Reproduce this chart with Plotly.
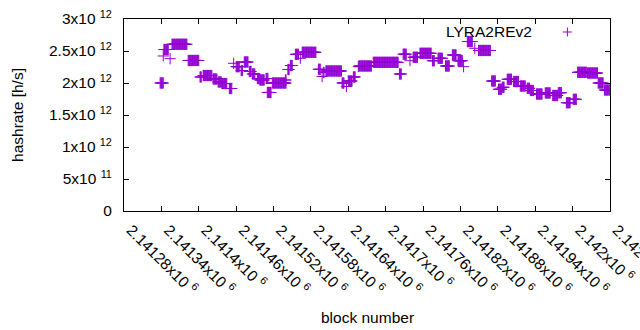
import numpy as np
import plotly.graph_objects as go

# --- data ---
# runs of consecutive blocks with the same hashrate estimate
run_start = [2141338, 2141343, 2141344, 2141354, 2141357, 2141383, 2141402, 2141407, 2141423, 2141431,
             2141437, 2141449, 2141456, 2141460, 2141468, 2141473, 2141481, 2141486, 2141494, 2141498,
             2141508, 2141510, 2141518, 2141539, 2141543, 2141547, 2141555, 2141563, 2141566, 2141592,
             2141598, 2141600, 2141604, 2141630, 2141637, 2141640, 2141648, 2141656, 2141657, 2141680,
             2141722, 2141728, 2141739, 2141744, 2141755, 2141775, 2141784, 2141796, 2141807, 2141816,
             2141825, 2141831, 2141843, 2141849, 2141870, 2141881, 2141887, 2141895, 2141905, 2141916,
             2141927, 2141932, 2141942, 2141956, 2141968, 2141977, 2141990, 2142001, 2142008, 2142024,
             2142041, 2142051]
run_end = [2141343, 2141343, 2141351, 2141354, 2141381, 2141400, 2141404, 2141421, 2141429, 2141436,
           2141445, 2141453, 2141456, 2141465, 2141470, 2141479, 2141484, 2141490, 2141497, 2141505,
           2141511, 2141516, 2141540, 2141540, 2141545, 2141550, 2141560, 2141563, 2141588, 2141595,
           2141598, 2141601, 2141629, 2141633, 2141637, 2141646, 2141651, 2141656, 2141677, 2141720,
           2141725, 2141733, 2141739, 2141751, 2141773, 2141778, 2141791, 2141802, 2141813, 2141823,
           2141825, 2141839, 2141843, 2141868, 2141876, 2141886, 2141890, 2141902, 2141913, 2141924,
           2141931, 2141937, 2141951, 2141964, 2141976, 2141982, 2141996, 2142006, 2142022, 2142040,
           2142049, 2142059]
run_hashrate = [2.000e12, 2.422e12, 2.523e12, 2.380e12, 2.605e12, 2.352e12, 2.094e12, 2.117e12, 2.062e12, 2.016e12,
                1.992e12, 1.914e12, 2.308e12, 2.255e12, 2.195e12, 2.328e12, 2.180e12, 2.141e12, 2.070e12, 2.047e12,
                2.070e12, 1.852e12, 2.000e12, 2.047e12, 2.211e12, 2.273e12, 2.448e12, 2.386e12, 2.480e12, 2.214e12,
                2.102e12, 2.164e12, 2.188e12, 2.000e12, 1.945e12, 2.031e12, 2.094e12, 2.255e12, 2.266e12, 2.323e12,
                2.141e12, 2.450e12, 2.348e12, 2.402e12, 2.464e12, 2.348e12, 2.386e12, 2.266e12, 2.438e12, 2.348e12,
                2.255e12, 2.648e12, 2.542e12, 2.508e12, 2.031e12, 1.902e12, 1.933e12, 2.058e12, 2.023e12, 1.953e12,
                1.917e12, 1.883e12, 1.828e12, 1.844e12, 1.805e12, 1.848e12, 1.692e12, 1.745e12, 2.167e12, 2.156e12,
                2.000e12, 1.891e12]

series_name = "LYRA2REv2"
x_tick_values = [2141280, 2141340, 2141400, 2141460, 2141520, 2141580, 2141640,
                 2141700, 2141760, 2141820, 2141880, 2141940, 2142000, 2142060]
x_tick_mantissa = ["2.14128", "2.14134", "2.1414", "2.14146", "2.14152", "2.14158", "2.14164",
                   "2.1417", "2.14176", "2.14182", "2.14188", "2.14194", "2.142", "2.14206"]
y_tick_values = [0, 5e11, 1e12, 1.5e12, 2e12, 2.5e12, 3e12]
y_tick_labels = ["0", "5x10 <sup>11</sup>", "1x10 <sup>12</sup>", "1.5x10 <sup>12</sup>",
                 "2x10 <sup>12</sup>", "2.5x10 <sup>12</sup>", "3x10 <sup>12</sup>"]

# decode runs into one point per block
blocks = np.concatenate([np.arange(s, e + 1) for s, e in zip(run_start, run_end)])
rates = np.concatenate([np.full(e - s + 1, v) for s, e, v in zip(run_start, run_end, run_hashrate)])

COLOR = "#9400D3"
FONT = "Liberation Sans, Arial, sans-serif"
FS = 15.5

fig = go.Figure()
fig.add_trace(go.Scatter(
    x=blocks, y=rates, mode="markers", name=series_name, showlegend=False,
    marker=dict(symbol="cross-thin", size=8, color=COLOR, line=dict(color=COLOR, width=1)),
))

axis_common = dict(showline=True, linecolor="black", linewidth=1, mirror="allticks",
                   ticks="inside", ticklen=5, tickcolor="black", showgrid=False, zeroline=False,
                   tickfont=dict(family=FONT, size=FS, color="black"))

fig.update_layout(
    width=640, height=330,
    margin=dict(l=124, r=30, t=19, b=119, autoexpand=False),
    plot_bgcolor="white", paper_bgcolor="white",
    font=dict(family=FONT, size=FS, color="black"),
    xaxis=dict(range=[2141280, 2142060], tickmode="array", tickvals=x_tick_values,
               ticktext=[m + "x10 <sup>6</sup>" for m in x_tick_mantissa],
               tickangle=45, ticklabelstandoff=3, ticklabelshift=7,
               ticklabeloverflow="allow", **axis_common),
    yaxis=dict(range=[0, 3e12], tickmode="array", tickvals=y_tick_values,
               ticktext=y_tick_labels, ticklabelstandoff=8, **axis_common),
    annotations=[
        dict(text="hashrate [h/s]", xref="paper", yref="paper", x=-0.2203, y=0.5,
             xanchor="center", yanchor="middle", textangle=-90, showarrow=False,
             font=dict(family=FONT, size=FS)),
        dict(text="block number", xref="paper", yref="paper", x=0.5, y=-0.557,
             xanchor="center", yanchor="middle", showarrow=False,
             font=dict(family=FONT, size=FS)),
        dict(text=series_name, xref="paper", yref="paper", x=(534 - 124) / 485.6, y=(211 - 31.5) / 192,
             xanchor="right", yanchor="middle", showarrow=False,
             font=dict(family=FONT, size=FS)),
    ],
    shapes=[
        dict(type="line", xref="paper", yref="paper", x0=(562.5 - 124) / 485.6, x1=(571.5 - 124) / 485.6,
             y0=(211 - 32) / 192, y1=(211 - 32) / 192, line=dict(color=COLOR, width=1)),
        dict(type="line", xref="paper", yref="paper", x0=(567 - 124) / 485.6, x1=(567 - 124) / 485.6,
             y0=(211 - 27.5) / 192, y1=(211 - 36.5) / 192, line=dict(color=COLOR, width=1)),
    ],
)

fig.write_html("out.html", config={"displayModeBar": False},
               post_script="document.body.style.margin='0';document.body.style.overflow='hidden';")
